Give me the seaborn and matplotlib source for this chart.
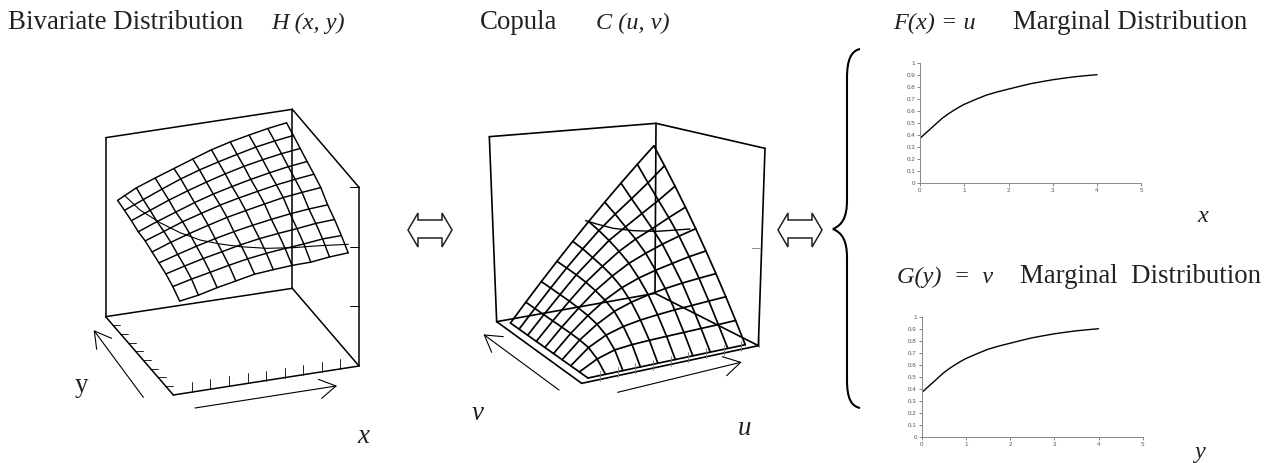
import numpy as np
import seaborn as sns
import matplotlib.pyplot as plt
from matplotlib.path import Path
from matplotlib.patches import PathPatch, Polygon

sns.set_theme(style="white")
plt.rcParams['font.family'] = ['Liberation Serif', 'DejaVu Sans']

# marginal distribution
marginal_x = [0, 0.125, 0.25, 0.375, 0.5, 0.625, 0.75, 0.875, 1, 1.25, 1.5, 1.75, 2, 2.25, 2.5, 2.75,
              3, 3.25, 3.5, 3.75, 4]
marginal_u = [0.37, 0.412, 0.453, 0.495, 0.536, 0.57, 0.60, 0.628, 0.653, 0.693, 0.73, 0.757, 0.78,
              0.803, 0.825, 0.842, 0.858, 0.871, 0.883, 0.892, 0.90]
marginal_ticks_x = [0, 1, 2, 3, 4, 5]
marginal_ticks_y = [0, 0.1, 0.2, 0.3, 0.4, 0.5, 0.6, 0.7, 0.8, 0.9, 1]
marginal_ticklabels_y = ['0', '0.1', '0.2', '0.3', '0.4', '0.5', '0.6', '0.7', '0.8', '0.9', '1']

# surface heights, front row first (fraction of the box height)
H_table = [
    [.493, .510, .536, .557, .579, .588, .596, .598, .611, .618],
    [.529, .555, .577, .600, .620, .635, .646, .655, .667, .670],
    [.555, .583, .609, .631, .654, .672, .685, .696, .709, .715],
    [.572, .603, .633, .659, .682, .702, .719, .734, .745, .752],
    [.588, .626, .659, .689, .717, .739, .760, .780, .793, .804],
    [.605, .642, .680, .711, .741, .765, .786, .806, .821, .834],
    [.611, .652, .689, .726, .758, .784, .808, .829, .847, .860],
    [.628, .670, .711, .747, .780, .810, .836, .857, .875, .888],
    [.641, .685, .728, .769, .803, .832, .858, .883, .901, .916],
    [.652, .706, .745, .782, .819, .855, .883, .905, .926, .942],
]
C_table = [
    [0, 0, 0, 0, 0, 0, 0, 0, 0, 0],
    [0, .05, .08, .09, .095, .098, .101, .104, .107, .111],
    [0, .08, .13, .16, .178, .19, .20, .207, .215, .222],
    [0, .09, .16, .215, .25, .275, .295, .31, .322, .333],
    [0, .095, .178, .25, .305, .345, .375, .40, .425, .444],
    [0, .098, .19, .275, .345, .405, .45, .49, .525, .556],
    [0, .101, .20, .295, .375, .45, .51, .56, .615, .667],
    [0, .104, .207, .31, .40, .49, .56, .63, .70, .778],
    [0, .107, .215, .322, .425, .525, .615, .70, .79, .889],
    [0, .111, .222, .333, .444, .556, .667, .778, .889, 1],
]

# level curves on the two surfaces
H_curve_x = [192, 240, 300, 360, 420, 480, 540, 620, 700, 780, 865]
H_curve_y = [375, 420, 458, 488, 510, 522, 530, 535, 533, 527, 523]
C_curve_x = [437, 470, 520, 580, 650, 710, 750]
C_curve_y = [452, 462, 475, 482, 484, 480, 477]

# box corners: floor (origin, x end, y end, far) and top, in crop pixels
box1_floor = [(340, 975), (897, 888), (137, 740), (697, 655)]
box1_top = [(337, 437), (897, 352), (137, 203), (697, 118)]
box2_floor = [(425, 940), (955, 827), (170, 755), (645, 670)]
box2_top = [(475, 275), (975, 235), (148, 200), (648, 160)]


def project(box_floor, box_top, a, b, z):
    f = np.array(box_floor, float)
    t = np.array(box_top, float)
    w = np.array([(1 - a) * (1 - b), a * (1 - b), (1 - a) * b, a * b])
    base = w @ f
    top = w @ t
    return base + z * (top - base)


def draw(ax, xs, ys, lw=1.0, color="black"):
    sns.lineplot(x=xs, y=ys, ax=ax, sort=False, estimator=None, color=color, linewidth=lw,
                 errorbar=None, legend=False)


def draw_surface(ax, table, box_floor, box_top, a_range, b_range, z_scale, lw):
    table = np.array(table, float)
    n = table.shape[0]
    a = np.linspace(a_range[0], a_range[1], n)
    b = np.linspace(b_range[0], b_range[1], n)
    pts = np.zeros((n, n, 2))
    for j in range(n):
        for i in range(n):
            pts[j, i] = project(box_floor, box_top, a[i], b[j], table[j, i] * z_scale)
    for k in range(n):
        draw(ax, pts[k, :, 0], pts[k, :, 1], lw)
        draw(ax, pts[:, k, 0], pts[:, k, 1], lw)


def draw_box(ax, floor, top, lw=1.1):
    o, xe, ye, far = floor
    to, txe, tye, tfar = top
    for p, q in [(ye, tye), (tye, tfar), (tfar, txe), (txe, xe), (far, tfar),
                 (ye, far), (far, xe), (ye, o), (o, xe)]:
        draw(ax, [p[0], q[0]], [p[1], q[1]], lw)


def draw_arrow(ax, start, end, head1, head2):
    draw(ax, [start[0], end[0]], [start[1], end[1]], 0.8)
    draw(ax, [head1[0], end[0], head2[0]], [head1[1], end[1], head2[1]], 0.8)


W, H = 1276, 463
fig = plt.figure(figsize=(W / 100, H / 100), dpi=100, facecolor="white")


def px_axes(x, y, w, h):
    return fig.add_axes([x / W, 1 - (y + h) / H, w / W, h / H])


# left diagram
ax1 = px_axes(60, 70, 340, 390)
ax1.set_xlim(0, 1020)
ax1.set_ylim(1170, 0)
ax1.axis("off")
draw_box(ax1, box1_floor, box1_top)
draw_surface(ax1, H_table, box1_floor, box1_top, (.055, .96), (.05, .975), 1.0, 1.05)
draw(ax1, H_curve_x, H_curve_y, 0.8)
for yy in [352, 530, 708]:
    draw(ax1, [870, 897], [yy, yy], 0.7)
for k in range(1, 10):
    xx = 340 + 55.7 * k
    yy = 975 - 8.7 * k
    draw(ax1, [xx, xx], [yy, yy - 30], 0.6)
for k in range(0, 8):
    xx = 318 - 22.7 * k
    yy = 948 - 26 * k
    draw(ax1, [xx - 2, xx + 22], [yy, yy], 0.6)
draw_arrow(ax1, (250, 982), (103, 783), (155, 805), (110, 838))
draw_arrow(ax1, (405, 1014), (828, 948), (775, 928), (785, 985))

# middle diagram
ax2 = px_axes(440, 70, 340, 390)
ax2.set_xlim(0, 1020)
ax2.set_ylim(1170, 0)
ax2.axis("off")
draw_box(ax2, box2_floor, box2_top, 1.2)
draw_surface(ax2, C_table, box2_floor, box2_top, (.06, .955), (.05, .95), 0.88, 1.25)
draw(ax2, C_curve_x, C_curve_y, 1.0)
draw(ax2, [935, 960], [535, 535], 0.6, "#777777")
for k in range(0, 10):
    xx = 480 + 53 * k
    yy = 933 - 11.3 * k
    draw(ax2, [xx, xx], [yy, yy - 30], 0.6, "#777777")
draw_arrow(ax2, (357, 960), (133, 795), (190, 800), (155, 847))
draw_arrow(ax2, (533, 967), (902, 877), (847, 860), (860, 917))


# marginal plots
def marginal(x, y, w, h):
    ax = px_axes(x, y, w, h)
    sns.lineplot(x=marginal_x, y=marginal_u, ax=ax, color="black", linewidth=1.0, errorbar=None)
    ax.set_xlim(0, 5)
    ax.set_ylim(0, 1)
    ax.set_xticks(marginal_ticks_x)
    ax.set_yticks(marginal_ticks_y)
    ax.set_yticklabels(marginal_ticklabels_y)
    ax.tick_params(axis="both", labelsize=4.5, length=2, width=0.5, pad=1.5, colors="#555555",
                   bottom=True, left=True)
    for lab in ax.get_xticklabels() + ax.get_yticklabels():
        lab.set_family("Liberation Sans")
    sns.despine(ax=ax)
    for s in ["left", "bottom"]:
        ax.spines[s].set_color("#888888")
        ax.spines[s].set_linewidth(0.7)
    ax.patch.set_alpha(0)
    return ax


marginal(920, 62.7, 221.3, 120)
marginal(921.7, 316.7, 221, 120.6)

# overlay in image pixels for text, double arrows and the brace
over = fig.add_axes([0, 0, 1, 1])
over.set_xlim(0, W)
over.set_ylim(H, 0)
over.axis("off")
over.patch.set_alpha(0)

for x, y, s, st, fs in [
    (8, 29, "Bivariate Distribution", "normal", 19.4),
    (271, 29, "H (x, y)", "italic", 17.5),
    (480, 29, "Copula", "normal", 19.4),
    (596, 29, "C (u, v)", "italic", 17.5),
    (893, 29, "F(x) = u", "italic", 17.5),
    (1013, 29, "Marginal Distribution", "normal", 19.4),
    (897, 283, "G(y)  =  v", "italic", 17.5),
    (1020, 283, "Marginal  Distribution", "normal", 19.4),
    (1197, 222, "x", "italic", 17.5),
    (1194, 458, "y", "italic", 17.5),
    (357, 443, "x", "italic", 19.4),
    (75, 392, "y", "normal", 19.4),
    (472, 420, "v", "italic", 19.4),
    (738, 435, "u", "italic", 19.4),
]:
    over.text(x, y, s, fontsize=fs, style=st, color="#222222", va="baseline", ha="left")

for cx in [430, 800]:
    dx = [-22, -12, -12, 12, 12, 22, 12, 12, -12, -12]
    dy = [230, 213, 220, 220, 213, 230, 247, 238, 238, 247]
    over.add_patch(Polygon([(cx + a, b) for a, b in zip(dx, dy)], closed=True, fc="white", ec="#222222", lw=1.1))

verts = [(860, 49), (851, 51), (847, 60), (847, 78), (847, 200), (847, 218), (842, 225), (833, 229),
         (842, 233), (847, 240), (847, 258), (847, 380), (847, 398), (851, 406), (860, 408)]
codes = [Path.MOVETO, Path.CURVE4, Path.CURVE4, Path.CURVE4, Path.LINETO, Path.CURVE4, Path.CURVE4, Path.CURVE4,
         Path.CURVE4, Path.CURVE4, Path.CURVE4, Path.LINETO, Path.CURVE4, Path.CURVE4, Path.CURVE4]
over.add_patch(PathPatch(Path(verts, codes), fc="none", ec="black", lw=1.5))

fig.savefig("out.png", dpi=100)
